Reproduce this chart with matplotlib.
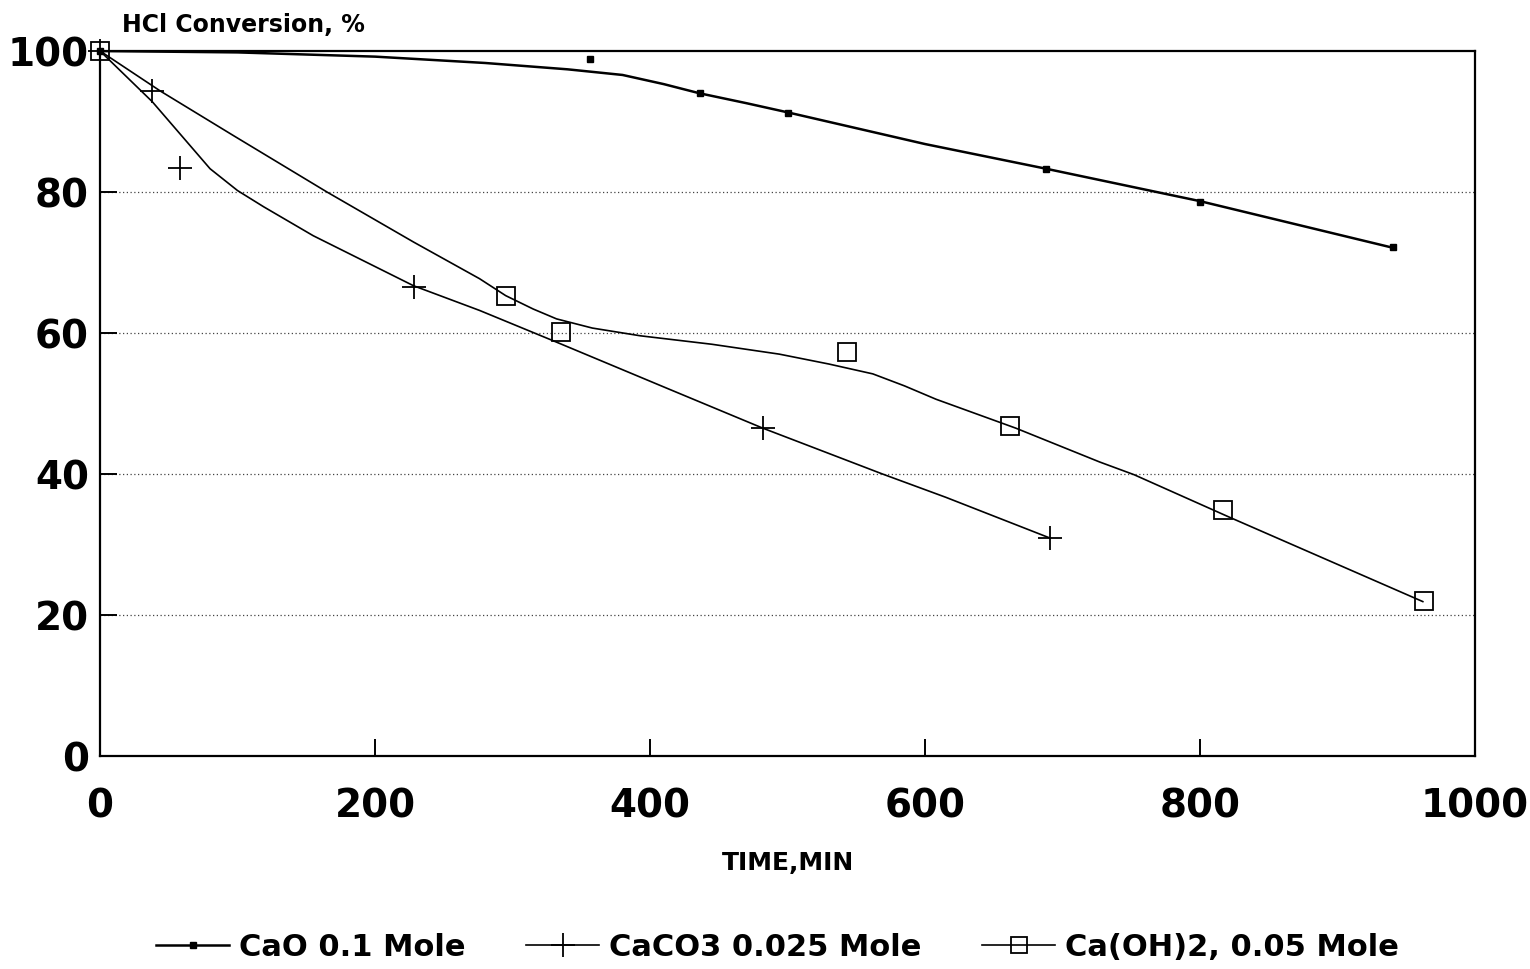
import numpy as np
import matplotlib
matplotlib.use('Agg')
import matplotlib.pyplot as plt
from matplotlib.lines import Line2D

plt.rcParams['font.family'] = ['DejaVu Sans']
plt.rcParams['font.weight'] = 'bold'

# --- measured points (time [min], HCl conversion [%]) ---
cao_t = [0, 356, 436, 500, 688, 800, 940]
cao_y = [100, 98.9, 94.0, 91.2, 83.2, 78.6, 72.2]

caco3_t = [0, 38, 58, 228, 482, 691]
caco3_y = [100, 94.3, 83.4, 66.5, 46.5, 30.9]

caoh_t = [0, 295, 335, 543, 662, 817, 963]
caoh_y = [100, 65.2, 60.2, 57.3, 46.8, 34.9, 22.0]

# --- smoothed curves as drawn in the original ---
cao_fit_t = [0, 100, 200, 280, 340, 380, 410, 436, 470, 500, 600, 688, 800, 940]
cao_fit_y = [100, 99.8, 99.2, 98.3, 97.4, 96.6, 95.3, 94.0, 92.6, 91.3, 86.8, 83.3, 78.7, 72.1]

caco3_fit_t = [0, 38, 80, 100, 119, 155, 228, 276, 332, 413, 482, 569, 615, 691]
caco3_fit_y = [100, 92.8, 83.3, 80.2, 77.9, 73.8, 66.7, 63.2, 58.7, 52.1, 46.5, 40.0, 36.7, 30.9]

caoh_fit_t = [0, 44, 97, 165, 228, 276, 295, 315, 332, 358, 393, 445, 494, 530, 562,
              585, 608, 666, 727, 752, 821, 962]
caoh_fit_y = [100, 94.3, 88.0, 80.0, 72.9, 67.7, 65.3, 63.4, 62.0, 60.7, 59.6, 58.4, 57.0,
              55.6, 54.2, 52.5, 50.6, 46.5, 41.7, 39.9, 33.9, 21.9]

labels = ['CaO 0.1 Mole', 'CaCO3 0.025 Mole', 'Ca(OH)2, 0.05 Mole']
x_ticks = [0, 200, 400, 600, 800, 1000]
y_ticks = [0, 20, 40, 60, 80, 100]

fig = plt.figure(figsize=(15.3, 9.7), dpi=100)
ax = fig.add_axes([0.0654, 0.2196, 0.8987, 0.7268])

# grid lines (dotted)
for yg in y_ticks[1:-1]:
    ax.axhline(yg, color='#444444', linestyle=(0, (1, 2)), linewidth=0.9, zorder=1)

# curves
ax.plot(cao_fit_t, cao_fit_y, color='black', lw=1.8, zorder=3)
ax.plot(caco3_fit_t, caco3_fit_y, color='black', lw=1.2, zorder=3)
ax.plot(caoh_fit_t, caoh_fit_y, color='black', lw=1.2, zorder=3)

# markers
ax.plot(cao_t, cao_y, ls='none', marker='s', ms=4.5, color='black', zorder=4,
        clip_on=False)
ax.plot(caco3_t, caco3_y, ls='none', marker='+', ms=17, mew=1.3, color='black',
        zorder=4, clip_on=False)
ax.plot(caoh_t, caoh_y, ls='none', marker='s', ms=13, mew=1.3, mfc='none',
        color='black', zorder=4, clip_on=False)

ax.set_xlim(0, 1000)
ax.set_ylim(0, 100)
ax.set_xticks(x_ticks)
ax.set_yticks(y_ticks)
ax.tick_params(axis='both', direction='in', length=12, width=1.4,
               labelsize=28)
ax.tick_params(axis='x', pad=22)
ax.tick_params(axis='y', pad=8)
for lab in ax.get_xticklabels() + ax.get_yticklabels():
    lab.set_fontweight('bold')
for sp in ax.spines.values():
    sp.set_linewidth(1.6)

ax.set_xlabel('TIME,MIN', fontsize=18, fontweight='bold', labelpad=18)
fig.text(122 / 1530, 1 - 25 / 970, 'HCl Conversion, %', fontsize=17,
         fontweight='bold', ha='left', va='center')

handles = [
    Line2D([], [], color='black', lw=1.8, marker='s', ms=4.5),
    Line2D([], [], color='black', lw=1.2, marker='+', ms=17, mew=1.3),
    Line2D([], [], color='black', lw=1.2, marker='s', ms=11, mew=1.3, mfc='none'),
]
fig.legend(handles, labels, loc='center', bbox_to_anchor=(0.508, 0.0227),
           ncol=3, frameon=False, handlelength=2.4,
           columnspacing=2.0, handletextpad=0.3, numpoints=1,
           prop={'weight': 'bold', 'size': 22})

fig.savefig('out.png', dpi=100)
